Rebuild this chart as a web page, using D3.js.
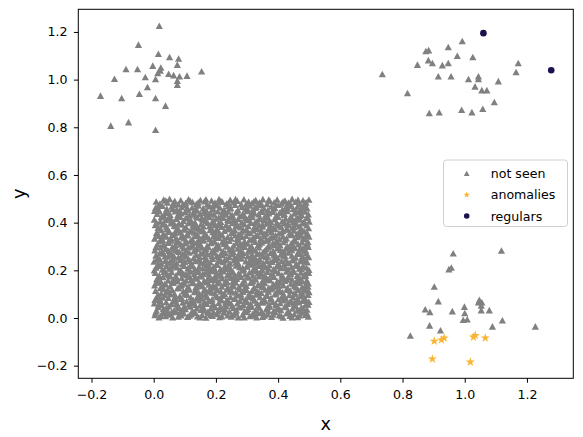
<!DOCTYPE html>
<html>
<head>
<meta charset="utf-8">
<script src="https://cdn.jsdelivr.net/npm/d3@7"></script>
<style>
  body { margin: 0; background: #fff; }
  svg { display: block; }
  text { font-family: "DejaVu Sans", sans-serif; }
</style>
</head>
<body>
<svg id="chart"></svg>
<script>
let w = 583;
let h = 437;

// dense block of "not seen" points, x and y in [0, 0.5]
let blockPts = [
[.004,.012],[.017,.003],[.029,.021],[.038,.008],[.052,.017],[.061,.002],[.073,.024],[.088,.011],[.097,.019],[.109,.005],[.121,.015],[.133,.023],[.141,.007],[.156,.013],[.168,.001],[.177,.020],[.189,.009],[.203,.016],[.212,.004],[.226,.022],[.238,.011],[.249,.006],[.261,.018],[.272,.002],[.286,.014],[.297,.024],[.309,.008],[.318,.017],[.331,.003],[.344,.021],[.356,.010],[.367,.015],[.379,.005],[.391,.023],[.404,.012],[.416,.001],[.427,.019],[.438,.009],[.452,.016],[.463,.004],[.476,.022],[.488,.013],[.497,.006],
[.009,.031],[.014,.046],[.031,.038],[.044,.027],[.049,.049],[.066,.033],[.081,.042],[.085,.026],[.102,.037],[.117,.048],[.124,.029],[.138,.040],[.152,.034],[.159,.047],[.174,.026],[.183,.039],[.198,.044],[.207,.030],[.221,.036],[.233,.049],[.244,.027],[.257,.041],[.266,.032],[.281,.045],[.292,.028],[.303,.038],[.315,.047],[.327,.031],[.339,.043],[.348,.026],[.362,.036],[.373,.048],[.386,.030],[.398,.040],[.409,.033],[.421,.046],[.433,.027],[.446,.039],[.457,.049],[.469,.031],[.481,.042],[.493,.035],
[.002,.061],[.021,.072],[.026,.054],[.040,.066],[.057,.058],[.069,.073],[.078,.051],[.093,.064],[.106,.070],[.113,.056],[.129,.062],[.145,.074],[.149,.052],[.163,.067],[.171,.059],[.186,.071],[.194,.053],[.209,.063],[.218,.074],[.230,.057],[.241,.068],[.253,.051],[.269,.061],[.277,.072],[.289,.055],[.301,.066],[.312,.058],[.324,.073],[.336,.052],[.351,.064],[.359,.070],[.371,.056],[.383,.067],[.395,.053],[.407,.062],[.418,.074],[.431,.059],[.442,.069],[.455,.054],[.466,.065],[.479,.072],[.490,.057],[.499,.068],
[.011,.088],[.019,.079],[.035,.096],[.047,.084],[.055,.099],[.070,.077],[.084,.091],[.091,.082],[.108,.097],[.119,.086],[.127,.076],[.142,.093],[.154,.081],[.166,.098],[.172,.087],[.188,.078],[.200,.094],[.214,.083],[.223,.099],[.236,.076],[.247,.089],[.259,.080],[.270,.095],[.283,.085],[.295,.077],[.306,.092],[.320,.082],[.329,.098],[.342,.087],[.354,.078],[.365,.093],[.377,.084],[.389,.099],[.401,.079],[.413,.090],[.425,.081],[.436,.096],[.449,.086],[.460,.076],[.472,.092],[.485,.083],[.496,.097],
[.006,.114],[.024,.103],[.033,.121],[.043,.109],[.059,.117],[.067,.101],[.076,.124],[.095,.112],[.101,.105],[.115,.119],[.131,.108],[.136,.123],[.147,.102],[.161,.115],[.179,.110],[.181,.124],[.196,.104],[.205,.118],[.216,.111],[.228,.101],[.240,.122],[.251,.113],[.263,.106],[.275,.120],[.287,.109],[.299,.117],[.307,.102],[.322,.123],[.333,.112],[.346,.105],[.358,.119],[.369,.110],[.381,.124],[.393,.103],[.405,.116],[.414,.108],[.429,.121],[.440,.113],[.451,.101],[.464,.118],[.474,.107],[.487,.122],[.498,.111],
[.003,.137],[.016,.148],[.027,.129],[.039,.141],[.053,.133],[.063,.147],[.080,.126],[.089,.139],[.099,.144],[.111,.131],[.123,.146],[.135,.128],[.150,.140],[.157,.134],[.170,.149],[.185,.127],[.191,.138],[.206,.145],[.219,.132],[.227,.143],[.239,.126],[.252,.136],[.264,.148],[.274,.130],[.288,.141],[.298,.135],[.311,.147],[.323,.128],[.335,.139],[.347,.133],[.357,.146],[.370,.127],[.384,.142],[.392,.131],[.406,.149],[.417,.137],[.430,.126],[.441,.144],[.453,.134],[.467,.147],[.477,.129],[.489,.140],[.496,.132],
[.010,.163],[.023,.152],[.030,.171],[.046,.158],[.054,.174],[.068,.161],[.077,.153],[.090,.168],[.104,.157],[.116,.172],[.126,.151],[.139,.165],[.148,.174],[.162,.156],[.175,.167],[.184,.160],[.197,.173],[.210,.152],[.220,.166],[.232,.158],[.245,.171],[.255,.154],[.267,.164],[.280,.172],[.291,.157],[.304,.169],[.314,.151],[.328,.162],[.338,.174],[.350,.155],[.363,.167],[.374,.159],[.387,.172],[.397,.153],[.410,.164],[.422,.156],[.434,.170],[.445,.161],[.458,.152],[.470,.166],[.483,.174],[.492,.158],
[.005,.189],[.018,.178],[.036,.196],[.042,.183],[.058,.192],[.071,.177],[.083,.198],[.094,.186],[.107,.180],[.118,.194],[.130,.184],[.143,.199],[.153,.176],[.167,.190],[.178,.182],[.190,.197],[.201,.179],[.213,.188],[.225,.195],[.237,.181],[.248,.192],[.260,.176],[.273,.187],[.285,.199],[.294,.183],[.308,.191],[.319,.178],[.332,.196],[.343,.185],[.355,.177],[.366,.193],[.378,.182],[.390,.198],[.402,.188],[.412,.179],[.426,.194],[.437,.184],[.448,.199],[.461,.177],[.473,.190],[.484,.181],[.495,.195],
[.008,.211],[.013,.224],[.028,.203],[.041,.217],[.050,.207],[.064,.222],[.075,.212],[.087,.201],[.098,.219],[.110,.209],[.122,.224],[.132,.204],[.146,.215],[.158,.208],[.169,.221],[.180,.202],[.193,.214],[.204,.223],[.215,.206],[.229,.218],[.242,.210],[.250,.201],[.265,.220],[.276,.213],[.290,.204],[.300,.216],[.313,.224],[.325,.208],[.337,.219],[.349,.202],[.360,.213],[.372,.222],[.385,.205],[.396,.217],[.408,.209],[.419,.224],[.432,.203],[.443,.214],[.456,.221],[.468,.207],[.480,.218],[.491,.211],[.499,.202],
[.001,.236],[.020,.246],[.025,.228],[.037,.240],[.051,.232],[.062,.249],[.074,.230],[.086,.243],[.100,.235],[.112,.247],[.120,.226],[.134,.238],[.144,.244],[.160,.229],[.165,.241],[.182,.233],[.189,.248],[.202,.227],[.217,.239],[.224,.234],[.235,.246],[.246,.228],[.258,.242],[.271,.231],[.282,.249],[.296,.237],[.305,.226],[.317,.244],[.330,.233],[.341,.247],[.353,.229],[.364,.240],[.376,.235],[.388,.248],[.400,.227],[.411,.238],[.424,.245],[.435,.231],[.447,.242],[.459,.226],[.471,.237],[.482,.249],[.494,.233],
[.007,.262],[.015,.252],[.032,.270],[.045,.257],[.056,.273],[.065,.260],[.079,.254],[.092,.268],[.103,.258],[.114,.274],[.128,.251],[.137,.265],[.151,.271],[.164,.256],[.173,.267],[.187,.259],[.195,.274],[.208,.253],[.222,.264],[.231,.272],[.243,.256],[.254,.268],[.268,.251],[.279,.263],[.288,.273],[.302,.258],[.316,.266],[.326,.252],[.340,.270],[.352,.261],[.361,.255],[.375,.272],[.386,.263],[.399,.251],[.409,.267],[.423,.258],[.433,.274],[.444,.262],[.457,.253],[.469,.269],[.478,.259],[.490,.272],[.498,.255],
[.004,.284],[.022,.296],[.027,.278],[.040,.290],[.048,.281],[.060,.298],[.072,.286],[.082,.277],[.096,.292],[.105,.283],[.119,.299],[.129,.279],[.140,.289],[.155,.295],[.163,.282],[.176,.297],[.186,.276],[.199,.288],[.211,.293],[.223,.280],[.234,.299],[.244,.287],[.256,.277],[.270,.291],[.280,.284],[.293,.298],[.303,.278],[.315,.290],[.327,.283],[.338,.296],[.352,.277],[.362,.289],[.372,.299],[.384,.281],[.397,.292],[.407,.286],[.420,.276],[.431,.297],[.444,.285],[.454,.293],[.467,.279],[.479,.290],[.489,.282],[.497,.298],
[.012,.309],[.019,.322],[.034,.303],[.045,.315],[.057,.324],[.070,.307],[.080,.318],[.093,.301],[.102,.313],[.117,.321],[.125,.305],[.138,.316],[.150,.309],[.161,.324],[.172,.302],[.184,.314],[.196,.320],[.207,.306],[.220,.317],[.232,.310],[.243,.323],[.257,.303],[.266,.315],[.278,.308],[.292,.321],[.302,.312],[.314,.302],[.326,.319],[.336,.307],[.347,.316],[.361,.324],[.371,.304],[.383,.313],[.394,.322],[.406,.306],[.418,.318],[.430,.301],[.442,.312],[.453,.324],[.465,.309],[.477,.317],[.488,.303],[.496,.319],
[.003,.333],[.017,.344],[.029,.328],[.038,.341],[.054,.336],[.062,.349],[.076,.327],[.088,.340],[.097,.334],[.110,.347],[.124,.330],[.133,.343],[.145,.326],[.158,.338],[.168,.348],[.179,.331],[.192,.342],[.200,.336],[.214,.349],[.226,.328],[.238,.340],[.249,.333],[.262,.346],[.273,.327],[.285,.339],[.297,.344],[.309,.329],[.321,.337],[.333,.348],[.344,.332],[.357,.342],[.368,.326],[.380,.338],[.392,.346],[.404,.331],[.415,.341],[.427,.334],[.439,.349],[.451,.327],[.462,.339],[.474,.345],[.486,.330],[.499,.341],
[.009,.357],[.024,.368],[.031,.352],[.043,.374],[.051,.361],[.067,.355],[.078,.370],[.085,.359],[.099,.373],[.108,.353],[.121,.366],[.131,.358],[.147,.371],[.154,.363],[.166,.352],[.181,.368],[.190,.360],[.203,.374],[.212,.354],[.227,.365],[.236,.372],[.250,.357],[.261,.367],[.274,.351],[.284,.362],[.298,.370],[.310,.356],[.320,.366],[.334,.374],[.345,.359],[.356,.352],[.369,.369],[.379,.361],[.391,.373],[.403,.355],[.416,.364],[.426,.371],[.438,.358],[.450,.366],[.461,.353],[.475,.372],[.485,.362],[.494,.356],
[.005,.389],[.014,.378],[.030,.395],[.041,.383],[.055,.397],[.066,.386],[.077,.377],[.091,.392],[.104,.381],[.113,.398],[.126,.388],[.139,.376],[.152,.393],[.160,.384],[.174,.399],[.185,.379],[.198,.390],[.209,.396],[.219,.382],[.233,.391],[.245,.377],[.253,.398],[.267,.387],[.279,.380],[.291,.394],[.304,.385],[.313,.399],[.327,.378],[.339,.390],[.350,.383],[.363,.396],[.376,.387],[.385,.376],[.398,.393],[.410,.382],[.421,.397],[.434,.389],[.446,.379],[.458,.394],[.468,.384],[.481,.399],[.492,.388],[.498,.377],
[.002,.413],[.021,.404],[.026,.422],[.039,.410],[.049,.419],[.063,.402],[.073,.416],[.086,.424],[.095,.407],[.109,.418],[.119,.411],[.132,.401],[.141,.421],[.157,.414],[.167,.405],[.178,.423],[.191,.409],[.201,.417],[.216,.403],[.224,.420],[.238,.412],[.247,.424],[.260,.406],[.272,.415],[.283,.401],[.295,.419],[.307,.410],[.318,.423],[.331,.404],[.342,.416],[.354,.409],[.366,.421],[.377,.402],[.389,.414],[.400,.424],[.413,.406],[.424,.417],[.437,.410],[.448,.401],[.460,.420],[.471,.413],[.484,.405],[.495,.422],
[.011,.437],[.018,.448],[.033,.429],[.046,.441],[.053,.433],[.069,.447],[.081,.427],[.089,.439],[.101,.445],[.115,.431],[.127,.442],[.136,.426],[.149,.437],[.162,.449],[.170,.430],[.183,.440],[.194,.434],[.206,.447],[.218,.428],[.229,.438],[.240,.446],[.252,.432],[.265,.443],[.277,.427],[.286,.436],[.300,.448],[.311,.431],[.323,.441],[.337,.435],[.346,.449],[.358,.428],[.370,.439],[.382,.445],[.395,.430],[.405,.442],[.418,.433],[.429,.448],[.441,.426],[.452,.438],[.466,.444],[.476,.432],[.487,.446],[.497,.435],
[.006,.462],[.016,.453],[.028,.470],[.042,.458],[.058,.467],[.064,.474],[.075,.455],[.090,.465],[.100,.472],[.111,.452],[.123,.463],[.134,.457],[.144,.471],[.159,.460],[.169,.451],[.180,.468],[.192,.456],[.205,.473],[.213,.463],[.226,.454],[.239,.469],[.248,.461],[.262,.474],[.271,.452],[.284,.465],[.296,.458],[.308,.471],[.319,.455],[.330,.466],[.343,.473],[.355,.459],[.367,.452],[.378,.467],[.390,.461],[.401,.474],[.414,.455],[.425,.464],[.436,.470],[.449,.457],[.462,.467],[.472,.453],[.483,.471],[.493,.460],
[.008,.488],[.020,.479],[.032,.496],[.044,.484],[.051,.499],[.068,.490],[.079,.477],[.087,.493],[.103,.482],[.112,.497],[.125,.486],[.137,.478],[.150,.494],[.163,.489],[.172,.476],[.186,.492],[.197,.483],[.210,.498],[.221,.487],[.234,.479],[.246,.495],[.256,.485],[.269,.491],[.281,.477],[.290,.497],[.305,.488],[.316,.481],[.328,.494],[.340,.484],[.351,.498],[.364,.478],[.374,.490],[.387,.485],[.397,.496],[.411,.480],[.422,.492],[.433,.483],[.445,.499],[.456,.487],[.470,.478],[.480,.493],[.490,.484],[.499,.496]
];

// more block points, lying between the rows above
let blockPts2 = [
[.023,.009],[.046,.014],[.079,.006],[.115,.010],[.149,.002],[.183,.013],[.219,.007],[.255,.012],[.291,.003],[.325,.010],[.350,.005],[.384,.014],[.410,.008],[.445,.002],[.470,.011],[.493,.018],
[.006,.022],[.035,.030],[.058,.025],[.092,.034],[.128,.021],[.164,.031],[.192,.024],[.230,.035],[.263,.026],[.300,.033],[.336,.020],[.369,.029],[.403,.037],[.437,.021],[.462,.032],[.486,.027],
[.016,.055],[.041,.043],[.073,.059],[.098,.048],[.133,.055],[.158,.041],[.190,.058],[.214,.046],[.248,.060],[.274,.044],[.307,.052],[.332,.062],[.366,.045],[.392,.058],[.425,.049],[.451,.061],[.475,.044],[.496,.056],
[.004,.076],[.029,.085],[.062,.070],[.087,.080],[.118,.066],[.140,.084],[.177,.073],[.205,.087],[.232,.068],[.262,.081],[.296,.071],[.318,.086],[.347,.069],[.376,.078],[.412,.085],[.438,.067],[.463,.080],[.490,.073],
[.014,.098],[.050,.106],[.069,.090],[.104,.100],[.136,.112],[.156,.094],[.187,.106],[.222,.093],[.245,.110],[.280,.100],[.311,.089],[.339,.107],[.363,.096],[.397,.111],[.420,.091],[.455,.104],[.481,.095],[.499,.108],
[.021,.125],[.044,.117],[.086,.134],[.107,.121],[.139,.131],[.167,.116],[.199,.129],[.234,.119],[.258,.133],[.292,.124],[.316,.114],[.352,.130],[.375,.120],[.401,.136],[.433,.118],[.458,.128],[.484,.115],
[.008,.148],[.035,.142],[.060,.156],[.095,.146],[.120,.160],[.145,.147],[.178,.140],[.201,.158],[.237,.149],[.260,.162],[.284,.144],[.319,.155],[.344,.141],[.368,.159],[.402,.148],[.428,.161],[.451,.141],[.478,.153],[.497,.145],
[.015,.170],[.049,.179],[.074,.166],[.101,.183],[.133,.171],[.158,.185],[.192,.165],[.217,.178],[.251,.168],[.277,.182],[.303,.174],[.335,.187],[.358,.166],[.384,.178],[.417,.170],[.441,.185],[.466,.167],[.489,.178],
[.002,.200],[.033,.193],[.055,.208],[.080,.190],[.114,.203],[.140,.193],[.173,.209],[.199,.197],[.232,.206],[.256,.191],[.286,.210],[.318,.199],[.343,.192],[.369,.207],[.392,.196],[.423,.210],[.452,.193],[.475,.205],[.498,.189],
[.018,.219],[.045,.231],[.068,.216],[.093,.227],[.126,.218],[.152,.234],[.177,.222],[.209,.237],[.240,.221],[.264,.232],[.299,.215],[.322,.228],[.347,.222],[.381,.235],[.406,.217],[.429,.230],[.465,.219],[.488,.236],
[.010,.245],[.036,.258],[.060,.241],[.088,.252],[.117,.239],[.147,.256],[.170,.246],[.203,.261],[.228,.242],[.260,.253],[.285,.262],[.311,.247],[.336,.240],[.366,.257],[.392,.244],[.417,.262],[.448,.249],[.474,.241],[.495,.260],
[.019,.272],[.051,.265],[.077,.280],[.099,.268],[.132,.285],[.160,.271],[.190,.282],[.215,.266],[.249,.279],[.274,.270],[.307,.286],[.332,.268],[.357,.281],[.390,.265],[.414,.278],[.440,.287],[.462,.270],[.484,.283],
[.007,.297],[.030,.305],[.064,.291],[.087,.309],[.112,.296],[.143,.304],[.168,.290],[.201,.300],[.227,.311],[.252,.293],[.284,.304],[.309,.292],[.340,.310],[.366,.296],[.389,.306],[.424,.291],[.448,.302],[.471,.296],[.494,.310],
[.024,.330],[.048,.318],[.071,.334],[.104,.324],[.128,.316],[.152,.331],[.186,.320],[.210,.336],[.231,.322],[.268,.332],[.291,.317],[.316,.329],[.350,.322],[.375,.335],[.398,.316],[.422,.328],[.457,.320],[.481,.333],
[.013,.351],[.040,.343],[.069,.358],[.093,.346],[.115,.362],[.141,.349],[.172,.340],[.196,.356],[.221,.347],[.255,.361],[.279,.345],[.304,.359],[.328,.344],[.362,.355],[.386,.340],[.410,.357],[.445,.348],[.468,.361],[.491,.344],
[.021,.376],[.047,.366],[.072,.384],[.096,.371],[.130,.380],[.158,.368],[.179,.385],[.205,.365],[.240,.377],[.264,.385],[.288,.370],[.323,.381],[.346,.367],[.371,.378],[.404,.387],[.430,.372],[.452,.381],[.479,.366],
[.009,.400],[.034,.392],[.058,.409],[.081,.396],[.114,.405],[.137,.390],[.164,.410],[.188,.398],[.211,.391],[.243,.406],[.267,.395],[.300,.411],[.325,.399],[.350,.391],[.372,.407],[.396,.400],[.430,.392],[.455,.409],[.478,.397],[.500,.404],
[.025,.425],[.052,.417],[.078,.433],[.104,.421],[.130,.435],[.154,.418],[.176,.429],[.209,.422],[.233,.434],[.258,.416],[.292,.428],[.315,.437],[.340,.419],[.364,.431],[.392,.424],[.420,.437],[.445,.415],[.470,.428],[.492,.420],
[.003,.449],[.037,.442],[.061,.457],[.084,.446],[.108,.461],[.140,.450],[.165,.441],[.189,.458],[.221,.446],[.244,.460],[.268,.443],[.303,.454],[.326,.462],[.350,.445],[.384,.455],[.409,.441],[.431,.459],[.458,.448],[.481,.462],
[.014,.470],[.039,.492],[.063,.482],[.094,.476],[.118,.490],[.143,.484],[.168,.497],[.191,.471],[.216,.491],[.240,.482],[.263,.498],[.297,.477],[.322,.489],[.346,.479],[.370,.496],[.393,.474],[.416,.488],[.440,.478],[.464,.495],[.486,.481]
];

// outlying "not seen" clusters
let topLeftPts = [
[0.018,1.225],[-0.049,1.146],[0.015,1.108],[0.051,1.094],[0.080,1.088],[0.076,1.062],
[-0.089,1.044],[-0.052,1.044],[-0.003,1.058],[0.023,1.050],[0.021,1.038],[0.013,1.027],
[0.048,1.024],[0.064,1.018],[0.083,1.013],[0.107,1.016],[0.154,1.034],[-0.027,1.010],
[0.006,1.002],[-0.126,1.003],[0.076,0.995],[0.076,0.978],[-0.020,0.968],[-0.171,0.932],
[-0.103,0.922],[-0.046,0.940],[0.006,0.922],[0.038,0.890],[-0.138,0.806],[-0.081,0.821],
[0.006,0.789]
];
let topRightPts = [
[0.992,1.161],[0.947,1.136],[0.875,1.119],[0.884,1.123],[0.976,1.099],[1.026,1.094],
[0.883,1.081],[0.896,1.069],[0.848,1.062],[0.928,1.060],[0.947,1.069],[1.172,1.069],
[1.165,1.031],[0.735,1.023],[0.915,1.013],[0.956,1.013],[1.012,1.002],[1.044,1.013],
[1.044,1.002],[1.108,0.993],[1.033,0.971],[1.055,0.955],[1.071,0.955],[0.816,0.943],
[1.095,0.905],[0.886,0.859],[0.918,0.862],[0.990,0.873],[1.023,0.863],[1.058,0.877]
];
let bottomRightPts = [
[0.963,0.271],[1.118,0.282],[0.949,0.204],[0.957,0.211],[0.902,0.131],[0.915,0.070],
[1.047,0.075],[1.044,0.065],[1.055,0.065],[1.053,0.052],[0.873,0.036],[0.888,0.025],
[0.960,0.028],[0.999,0.047],[1.000,0.020],[0.995,-0.008],[1.008,-0.006],[1.053,0.032],
[1.079,0.032],[1.121,-0.010],[1.089,-0.036],[1.227,-0.036],[0.887,-0.032],[0.922,-0.052],
[0.825,-0.074]
];
let anomalyPts = [
[0.902,-0.097],[0.925,-0.092],[0.934,-0.084],[1.028,-0.080],[1.034,-0.073],[1.066,-0.084],
[0.896,-0.172],[1.018,-0.185]
];
let regularPts = [[1.060,1.195],[1.278,1.039]];

let xTicks = [-0.2, 0.0, 0.2, 0.4, 0.6, 0.8, 1.0, 1.2];
let yTicks = [-0.2, 0.0, 0.2, 0.4, 0.6, 0.8, 1.0, 1.2];
let legendLabels = ["not seen", "anomalies", "regulars"];

let grey = "#808080";
let starColor = "#f9b433";
let dotColor = "#1e1150";

let chart = d3.select("#chart").attr("width", w).attr("height", h);

let xScale = d3.scaleLinear().domain([-0.2424, 1.349]).range([78.3, 573.3]);
let yScale = d3.scaleLinear().domain([-0.253, 1.295]).range([378.3, 9.3]);

// matplotlib style "^" marker
function tri(cx, cy) {
  return `M${cx},${cy - 3.5}L${cx - 3.6},${cy + 3.1}L${cx + 3.6},${cy + 3.1}Z`;
}
let star = d3.symbol().type(d3.symbolStar).size(26);

let notSeen = blockPts.concat(blockPts2, topLeftPts, topRightPts, bottomRightPts);

chart.append("g")
  .selectAll("path")
  .data(notSeen)
  .join("path")
  .attr("d", d => tri(xScale(d[0]), yScale(d[1])))
  .attr("fill", grey);

chart.append("g")
  .selectAll("path")
  .data(anomalyPts)
  .join("path")
  .attr("d", star)
  .attr("transform", d => `translate(${xScale(d[0])},${yScale(d[1])})`)
  .attr("fill", starColor);

chart.append("g")
  .selectAll("circle")
  .data(regularPts)
  .join("circle")
  .attr("cx", d => xScale(d[0]))
  .attr("cy", d => yScale(d[1]))
  .attr("r", 3.3)
  .attr("fill", dotColor);

// frame
chart.append("rect")
  .attr("x", 78.3).attr("y", 9.3)
  .attr("width", 495).attr("height", 369)
  .attr("fill", "none")
  .attr("stroke", "#000")
  .attr("stroke-width", 1);

let xAxis = d3.axisBottom(xScale)
  .tickValues(xTicks)
  .tickFormat(d3.format(".1f"))
  .tickSize(4.4).tickSizeOuter(0).tickPadding(7);

let yAxis = d3.axisLeft(yScale)
  .tickValues(yTicks)
  .tickFormat(d3.format(".1f"))
  .tickSize(4.4).tickSizeOuter(0).tickPadding(6.5);

let xAxisGroup = chart.append("g")
  .attr("transform", `translate(0, 378.3)`)
  .call(xAxis);
let yAxisGroup = chart.append("g")
  .attr("transform", `translate(78.3, 0)`)
  .call(yAxis);

[xAxisGroup, yAxisGroup].forEach(g => {
  g.select(".domain").remove();
  g.selectAll(".tick line").attr("stroke", "#000").attr("stroke-width", 1);
  g.selectAll(".tick text")
    .attr("fill", "#000")
    .attr("font-size", 12.6)
    .attr("font-family", "DejaVu Sans, sans-serif");
});

chart.append("text")
  .attr("x", 325.8).attr("y", 430)
  .attr("text-anchor", "middle")
  .attr("font-size", 17.7)
  .text("x");

chart.append("text")
  .attr("transform", "translate(25, 193.8) rotate(-90)")
  .attr("text-anchor", "middle")
  .attr("font-size", 17.7)
  .text("y");

// legend
let legend = chart.append("g");
legend.append("rect")
  .attr("x", 443.5).attr("y", 160)
  .attr("width", 124).attr("height", 66.5)
  .attr("rx", 3)
  .attr("fill", "#fff").attr("fill-opacity", 0.8)
  .attr("stroke", "#d0d0d0").attr("stroke-width", 1);

let rowY = [173.5, 194.8, 216];
let lg = legend.selectAll("g.item")
  .data(legendLabels)
  .join("g")
  .attr("class", "item")
  .attr("transform", (d, i) => `translate(466.7, ${rowY[i]})`);

lg.filter((d, i) => i === 0).append("path")
  .attr("d", `M0,-2.7L-2.9,2.5L2.9,2.5Z`)
  .attr("fill", grey);
lg.filter((d, i) => i === 1).append("path")
  .attr("d", d3.symbol().type(d3.symbolStar).size(14)())
  .attr("fill", starColor);
lg.filter((d, i) => i === 2).append("circle")
  .attr("r", 2.8)
  .attr("fill", dotColor);

lg.append("text")
  .attr("x", 24)
  .attr("dy", "0.36em")
  .attr("font-size", 12.6)
  .text(d => d);
</script>
</body>
</html>
